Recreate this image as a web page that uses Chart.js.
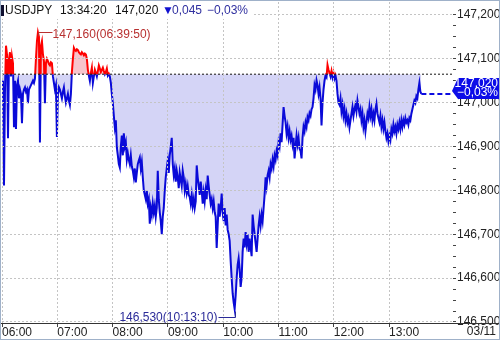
<!DOCTYPE html>
<html>
<head>
<meta charset="utf-8">
<script src="https://cdn.jsdelivr.net/npm/chart.js@4.4.1/dist/chart.umd.min.js"></script>
<style>
html, body { margin: 0; padding: 0; background: #fff; }
#wrap { width: 500px; height: 340px; position: relative; }
</style>
</head>
<body>
<div id="wrap"><canvas id="mycanvas"></canvas></div>
<script>
var symbol = 'USDJPY';
var clock = '13:34:20';
var lastText = '147,020';
var changeText = '0,045';
var pctText = '\u22120,03%';
var dateLabel = '03/11';
var prevClose = 147.065;
var stepSec = 65; // one sample every 65 s from 06:00
var hiTime = '06:39:50';
var loTime = '10:13:10';

var hourLabels = ['06:00', '07:00', '08:00', '09:00', '10:00', '11:00', '12:00', '13:00'];
var hourTicks = [0, 3600, 7200, 10800, 14400, 18000, 21600, 25200];
var priceTicks = [146.5, 146.6, 146.7, 146.8, 146.9, 147.0, 147.1, 147.2];
var priceLabels = ['146,500', '146,600', '146,700', '146,800', '146,900', '147,000', '147,100', '147,200'];

var prices = [
	147.050,147.040,146.811,147.030,147.130,147.110,146.919,147.100,147.115,147.060,
	147.105,147.090,146.944,147.050,146.940,147.040,147.050,147.010,147.030,147.020,
	146.953,147.020,147.030,147.035,147.025,147.030,146.999,147.030,147.035,147.040,
	147.045,147.050,147.045,147.055,147.100,147.140,147.160,147.150,146.909,147.130,
	147.140,147.110,147.095,146.999,147.090,147.100,147.095,147.088,147.085,147.092,
	147.090,147.060,147.045,147.030,147.040,146.922,147.020,147.035,147.030,147.020,
	147.010,147.025,147.035,147.015,147.000,147.010,147.020,147.005,146.995,147.020,
	147.070,147.100,147.125,147.120,147.118,147.122,147.120,147.115,147.112,147.110,
	147.115,147.112,147.108,147.112,147.110,147.100,147.075,147.062,147.050,147.068,
	147.080,147.045,147.060,147.075,147.068,147.060,147.072,147.085,147.078,147.070,
	147.075,147.080,147.072,147.065,147.070,147.078,147.062,147.066,147.060,147.045,
	147.020,146.999,146.970,146.944,146.960,146.898,146.880,146.860,146.852,146.900,
	146.925,146.880,146.930,146.900,146.910,146.870,146.885,146.870,146.860,146.880,
	146.855,146.845,146.830,146.850,146.818,146.840,146.860,146.868,146.875,146.850,
	146.865,146.830,146.800,146.790,146.780,146.800,146.770,146.780,146.724,146.760,
	146.745,146.770,146.750,146.765,146.740,146.760,146.845,146.780,146.750,146.730,
	146.700,146.740,146.760,146.800,146.830,146.850,146.868,146.840,146.880,146.900,
	146.920,146.860,146.835,146.850,146.820,146.845,146.830,146.805,146.840,146.825,
	146.810,146.845,146.830,146.800,146.815,146.795,146.810,146.790,146.785,146.770,
	146.790,146.765,146.780,146.760,146.775,146.857,146.830,146.810,146.790,146.820,
	146.800,146.770,146.795,146.775,146.800,146.780,146.834,146.810,146.790,146.770,
	146.780,146.760,146.775,146.750,146.740,146.669,146.720,146.770,146.740,146.760,
	146.793,146.750,146.730,146.760,146.720,146.745,146.710,146.700,146.685,146.640,
	146.600,146.565,146.545,146.530,146.560,146.600,146.630,146.645,146.620,146.580,
	146.600,146.660,146.690,146.670,146.705,146.680,146.700,146.660,146.690,146.670,
	146.650,146.745,146.720,146.700,146.680,146.660,146.690,146.720,146.740,146.720,
	146.745,146.730,146.760,146.790,146.830,146.810,146.835,146.845,146.830,146.860,
	146.850,146.870,146.855,146.880,146.870,146.890,146.880,146.910,146.900,146.930,
	146.910,146.950,146.990,146.970,146.955,146.930,146.945,146.920,146.935,146.915,
	146.925,146.905,146.920,146.873,146.900,146.925,146.905,146.920,146.895,146.890,
	146.873,146.920,146.945,146.935,146.955,146.945,146.967,146.960,146.976,146.970,
	146.985,146.990,147.010,147.040,147.030,147.051,147.040,147.020,147.035,147.010,
	146.948,147.000,147.030,147.050,147.062,147.058,147.086,147.075,147.068,147.060,
	147.072,147.058,147.068,147.055,147.062,147.050,147.020,147.000,146.995,147.010,
	146.980,146.995,146.970,146.985,146.960,146.975,146.955,146.965,146.944,146.960,
	146.975,146.990,146.970,146.985,146.995,146.980,147.005,146.990,146.975,146.985,
	146.960,146.975,146.945,146.960,146.935,146.955,146.975,146.965,146.990,146.970,
	146.985,146.960,146.975,146.960,146.985,146.998,146.975,146.965,146.955,146.970,
	146.945,146.960,146.940,146.955,146.935,146.920,146.930,146.912,146.925,146.915,
	146.940,146.930,146.950,146.935,146.945,146.930,146.950,146.940,146.955,146.940,
	146.960,146.945,146.960,146.950,146.965,146.955,146.960,146.950,146.965,146.960,
	146.975,146.985,146.995,147.005,147.000,147.015,147.010,147.030,147.045,147.025,
	147.020
];

var xMax = 29294;
var yMin = 146.4977, yMax = 147.2296;
var FONT = '12px "Liberation Sans", Arial, sans-serif';
var GRID = '#c4c4c4';

function fmt(v) { return v.toFixed(3).replace('.', ','); }

var series = [];
for (var i in prices) series.push({x: i * stepSec, y: prices[i]});
var lastT = (prices.length - 1) * stepSec;
var last = prices[prices.length - 1];

// minor ticks: four per 0.1
var yTickVals = [];
for (var k = 0; k < priceTicks.length; k++) {
	yTickVals.push(priceTicks[k]);
	if (k < priceTicks.length - 1)
		for (var m = 1; m < 4; m++) yTickVals.push(priceTicks[k] + m * 0.025);
}

function noPad(scale) {
	scale.paddingTop = 0;
	scale.paddingBottom = 0;
	scale.paddingLeft = 0;
	scale.paddingRight = 0;
}

var sidePlugin = {
	id: 'sideClip',
	beforeDatasetDraw: function(chart, args) {
		var side = chart.data.datasets[args.index].side;
		if (!side) return;
		var a = chart.chartArea, c = chart.ctx;
		var by = chart.scales.y.getPixelForValue(prevClose);
		c.save();
		c.beginPath();
		if (side === 'up') c.rect(a.left, a.top, a.right - a.left, by - a.top);
		else c.rect(a.left, by, a.right - a.left, a.bottom - by);
		c.clip();
	},
	afterDatasetDraw: function(chart, args) {
		if (chart.data.datasets[args.index].side) chart.ctx.restore();
	}
};

var overlayPlugin = {
	id: 'overlay',
	afterDraw: function(chart) {
		var c = chart.ctx, a = chart.chartArea;
		var xs = chart.scales.x, ys = chart.scales.y;
		c.save();
		c.font = FONT;

		// header
		c.fillStyle = '#fff';
		c.fillRect(1, 1, 251, 18);
		c.fillStyle = '#101030';
		c.fillRect(1, 5, 3, 11);
		c.textBaseline = 'middle';
		c.textAlign = 'left';
		c.fillStyle = '#111';
		c.fillText(symbol, 5, 11);
		c.fillText(clock, 60, 11);
		c.fillText(lastText, 115, 11);
		c.fillStyle = '#1010d0';
		c.fillText('\u25BC', 162, 11);
		c.fillStyle = '#3030a0';
		c.fillText(changeText, 172, 11);
		c.fillText(pctText, 207, 11);

		// high / low marks
		var hi = 0, lo = 0;
		for (var i = 0; i < prices.length; i++) {
			if (prices[i] > prices[hi]) hi = i;
			if (prices[i] < prices[lo]) lo = i;
		}
		var hx = Math.round(xs.getPixelForValue(hi * stepSec)) + 0.5;
		var hy = Math.round(ys.getPixelForValue(prices[hi])) + 0.5;
		c.strokeStyle = '#b83030';
		c.lineWidth = 1;
		c.beginPath();
		c.moveTo(hx, hy + 3); c.lineTo(hx, hy - 1); c.lineTo(hx + 14, hy - 1);
		c.stroke();
		c.fillStyle = '#b83030';
		c.fillText(fmt(prices[hi]) + '(' + hiTime + ')', hx + 14, hy + 1);

		var lx = Math.round(xs.getPixelForValue(lo * stepSec)) + 0.5;
		var ly = Math.round(ys.getPixelForValue(prices[lo])) + 0.5;
		c.strokeStyle = '#2a2a98';
		c.beginPath();
		c.moveTo(lx, ly + 2); c.lineTo(lx, ly + 8); c.lineTo(lx - 17, ly + 8);
		c.stroke();
		c.fillStyle = '#2a2a98';
		c.textAlign = 'right';
		c.fillText(fmt(prices[lo]) + '(' + loTime + ')', lx - 18, ly + 8);

		// last price box on the axis
		var py = ys.getPixelForValue(last);
		c.fillStyle = '#0c0ce8';
		c.beginPath();
		c.moveTo(a.right, py - 3);
		c.lineTo(a.right + 6, py - 16);
		c.lineTo(500, py - 16);
		c.lineTo(500, py + 5);
		c.lineTo(a.right + 6, py + 5);
		c.closePath();
		c.fill();
		c.fillStyle = '#fff';
		c.fillText(lastText, 498, py - 10);
		c.fillText(pctText, 498, py - 1);

		// date under the price axis
		c.fillStyle = '#222';
		c.fillText(dateLabel, 496, a.bottom + 9);

		// time axis line across the full width
		c.strokeStyle = '#333';
		c.beginPath();
		c.moveTo(0, a.bottom + 0.5); c.lineTo(500, a.bottom + 0.5);
		c.stroke();

		// frame
		c.strokeStyle = '#9fb1c9';
		c.lineWidth = 2;
		c.strokeRect(0, 0, 500, 340);
		c.restore();
	}
};

var chartdata = {
	datasets: [
		{
			label: 'prev',
			data: [{x: 0, y: prevClose}, {x: xMax, y: prevClose}],
			borderColor: '#111',
			borderWidth: 1,
			borderDash: [2, 2],
			pointRadius: 0,
			fill: false
		},
		{
			label: 'now',
			data: [{x: lastT, y: last}, {x: xMax, y: last}],
			borderColor: '#0c0ce0',
			borderWidth: 2,
			borderDash: [5, 3],
			pointRadius: 0,
			fill: false
		},
		{
			label: 'up',
			side: 'up',
			data: series,
			borderColor: '#ff0000',
			borderWidth: 2,
			pointRadius: 0,
			tension: 0,
			fill: false
		},
		{
			label: 'down',
			side: 'down',
			data: series,
			borderColor: '#0a0ad8',
			borderWidth: 2,
			pointRadius: 0,
			tension: 0,
			fill: false
		},
		{
			label: 'area',
			data: series,
			borderColor: 'transparent',
			borderWidth: 1,
			pointRadius: 0,
			tension: 0,
			fill: {target: {value: prevClose}, above: '#f7c4cc', below: '#d4d4f6'}
		}
	]
};

var ctx = document.getElementById('mycanvas');

var LineGraph = new Chart(ctx, {
	type: 'line',
	data: chartdata,
	options: {
		responsive: true,
		maintainAspectRatio: false,
		animation: false,
		layout: {padding: {left: 2, top: 2, right: 0, bottom: 0}},
		plugins: {legend: {display: false}, tooltip: {enabled: false}},
		scales: {
			x: {
				type: 'linear',
				min: 0,
				max: xMax,
				afterBuildTicks: function(scale) {
					scale.ticks = hourTicks.map(function(v) { return {value: v}; });
				},
				afterFit: function(scale) { scale.height = 17; noPad(scale); },
				ticks: {
					autoSkip: false,
					maxRotation: 0,
					align: 'start',
					padding: -2,
					color: '#222',
					font: {family: '"Liberation Sans", Arial, sans-serif', size: 12},
					callback: function(v, i) { return hourLabels[i]; }
				},
				grid: {color: GRID, lineWidth: 1, tickLength: 4, tickColor: '#444', z: 1},
				border: {display: false, dash: [2, 2]}
			},
			y: {
				type: 'linear',
				position: 'right',
				min: yMin,
				max: yMax,
				afterBuildTicks: function(scale) {
					scale.ticks = yTickVals.map(function(v) { return {value: v}; });
				},
				afterFit: function(scale) { scale.width = 48; noPad(scale); },
				ticks: {
					autoSkip: false,
					padding: 1,
					color: '#222',
					font: {family: '"Liberation Sans", Arial, sans-serif', size: 12},
					callback: function(v, i) { return i % 4 === 0 ? priceLabels[i / 4] : ''; }
				},
				grid: {
					color: function(c) { return c.index % 4 === 0 ? GRID : 'transparent'; },
					tickLength: 4,
					tickColor: '#444',
					z: 1
				},
				border: {display: true, color: '#333', dash: [2, 2]}
			}
		}
	},
	plugins: [sidePlugin, overlayPlugin]
});
</script>
</body>
</html>
